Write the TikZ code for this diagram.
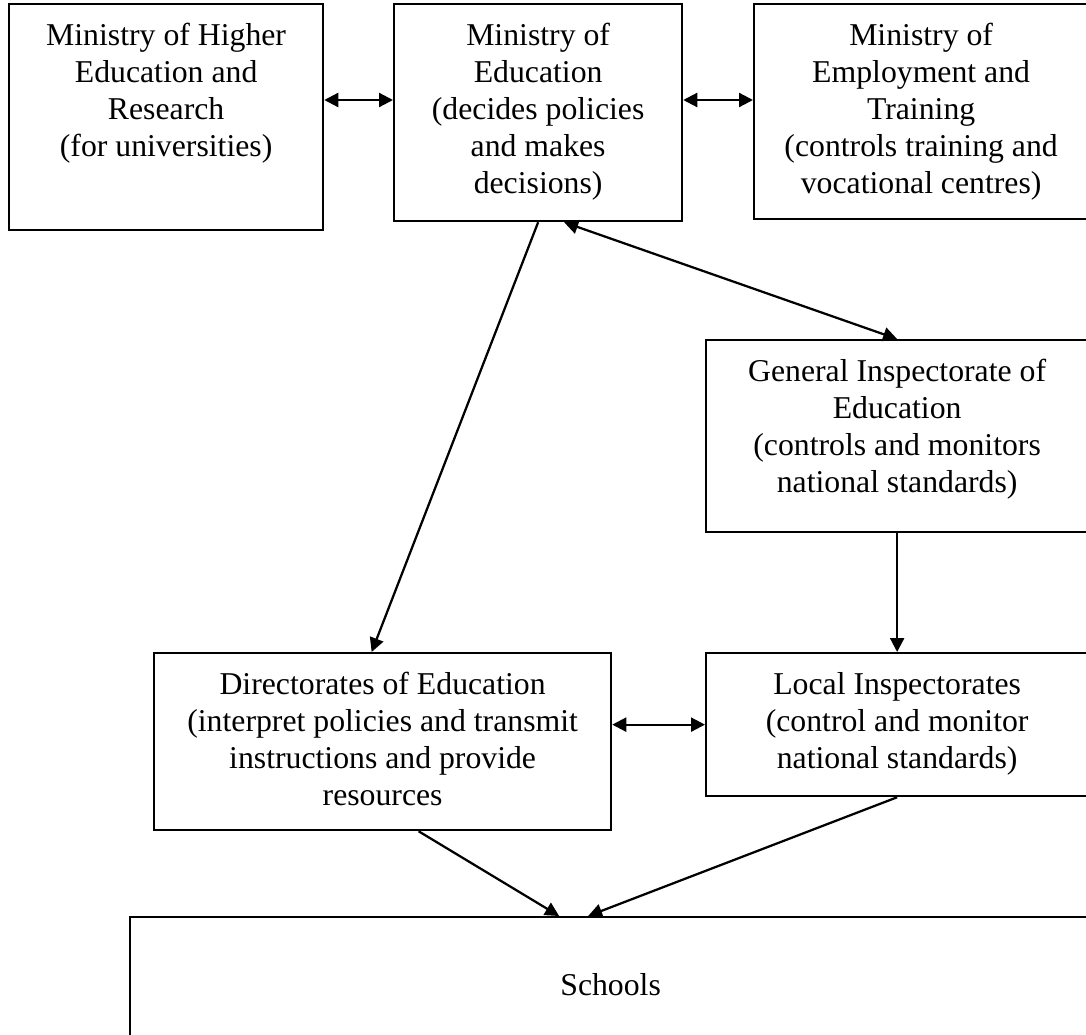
\documentclass[tikz,border=0pt]{standalone}
\usepackage{fontspec}
\setmainfont{Liberation Serif}
\usetikzlibrary{arrows.meta,calc}
\tikzset{
    box/.style={draw,line width=0.9pt,inner sep=0pt,anchor=north west},
    txt/.style={anchor=north,inner sep=0pt,yshift=-7.9pt,align=center,
        font=\fontsize{12.7pt}{14.8pt}\selectfont},
    arr/.style={line width=0.9pt,-{Triangle[length=5.6pt,width=5.6pt]}},
    dbl/.style={line width=0.9pt,{Triangle[length=5.6pt,width=5.6pt]}-{Triangle[length=5.6pt,width=5.6pt]}}
}
\begin{document}
\begin{tikzpicture}[x=0.4pt,y=-0.4pt]
    \useasboundingbox (0,0) rectangle (1086,1034);
    \node[box,minimum width=125.6pt,minimum height=90.4pt] (mhe) at (8,3) {};
    \node[box,minimum width=115.2pt,minimum height=86.8pt] (moe) at (393,3) {};
    \node[box,minimum width=133.6pt,minimum height=86pt] (met) at (753,3) {};
    \node[box,minimum width=152.8pt,minimum height=76.8pt] (gie) at (705,339) {};
    \node[box,minimum width=182.8pt,minimum height=70.8pt] (doe) at (153,652) {};
    \node[box,minimum width=152.8pt,minimum height=57.2pt] (lie) at (705,652) {};
    \node[box,minimum width=384.4pt,minimum height=53.6pt] (sch) at (129,916) {};

    \node[txt] (mhetxt) at (mhe.north) {Ministry of Higher\\Education and\\Research\\(for universities)};
    \node[txt] (moetxt) at (moe.north) {Ministry of\\Education\\(decides policies\\and makes\\decisions)};
    \node[txt] (mettxt) at (met.north) {Ministry of\\Employment and\\Training\\(controls training and\\vocational centres)};
    \node[txt] (gietxt) at (gie.north) {General Inspectorate of\\Education\\(controls and monitors\\national standards)};
    \node[txt] (doetxt) at (doe.north) {Directorates of Education\\(interpret policies and transmit\\instructions and provide\\resources};
    \node[txt] (lietxt) at (lie.north) {Local Inspectorates\\(control and monitor\\national standards)};
    \node[font=\fontsize{12.7pt}{14.8pt}\selectfont] (schtxt) at (sch.center) {Schools};

    \coordinate (row) at (0,100);
    \draw[dbl] (mhe.east |- row) -- (moe.west |- row);
    \draw[dbl] (moe.east |- row) -- (met.west |- row);
    \draw[arr] (moe.south) -- ([xshift=-4.4pt]doe.north);
    \draw[dbl] ([xshift=10.4pt]moe.south) -- (gie.north);
    \draw[arr] (gie.south) -- (lie.north);
    \draw[dbl] (doe.east |- lie.west) -- (lie.west);
    \draw[arr] ([xshift=14.4pt]doe.south) -- ([xshift=-20.6pt]sch.north);
    \draw[arr] (lie.south) -- ([xshift=-9pt]sch.north);
\end{tikzpicture}
\end{document}
